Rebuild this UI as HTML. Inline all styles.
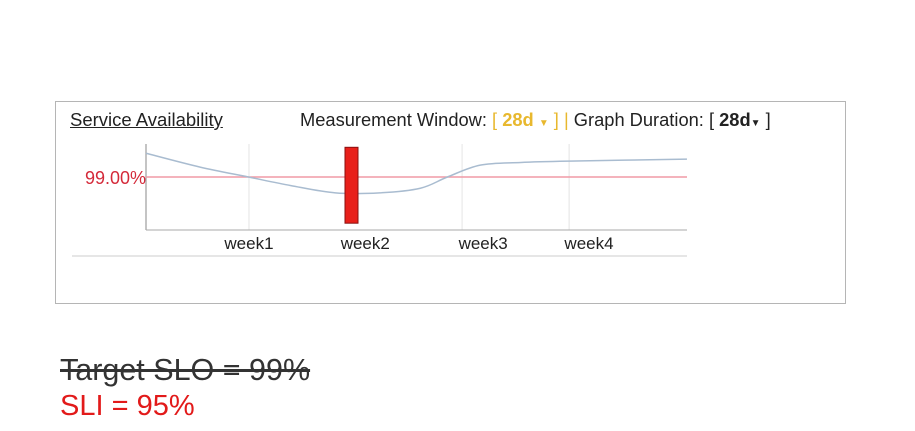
<!DOCTYPE html>
<html><head><meta charset="utf-8"><style>
body{margin:0;width:915px;height:431px;background:#fff;font-family:"Liberation Sans",sans-serif;overflow:hidden;position:relative}
.frame{position:absolute;left:55px;top:101px;width:791px;height:203px;border:1px solid #b5b5b5;box-sizing:border-box}
.t{position:absolute;white-space:nowrap}
</style></head><body>
<div class="frame"></div>
<div class="t" style="left:70px;top:109px;font-size:18.5px;color:#222;text-decoration:underline">Service Availability</div>
<div class="t" style="left:300px;top:109px;font-size:18.3px;color:#222">Measurement Window: <span style="color:#e8b82e">[ <b>28d</b> <span style="font-size:10px">▼</span> ] |</span> Graph Duration: <span>[ <b>28d</b><span style="font-size:10px">▼</span> ]</span></div>
<svg width="915" height="431" style="position:absolute;left:0;top:0">
<g id="g"></g>
</svg>
<div class="t" style="left:60px;top:353px;font-size:30.5px;color:#333;text-decoration:line-through">Target SLO = 99%</div>
<div class="t" style="left:60px;top:390px;font-size:29px;color:#e21a1a">SLI = 95%</div>
<script>
const days=[0,2.8,5.3,7.5,9.8,12.1,14.2,15.6,17.3,19.4,21.9,28];
const avail=[99.36,99.15,99.0,98.87,98.76,98.76,98.83,99.0,99.18,99.22,99.24,99.27];
const target=[99.0];
const gridDays=[5.33,16.36,21.9];
const tickLabels=["week1","week2","week3","week4"];
const tickLabelDays=[5.33,11.35,17.45,22.93];
const barDay=[10.3];
const barRange=[99.45,98.3];
const X=d=>146+d*19.32, Y=v=>177-(v-99)*66;
const NS="http://www.w3.org/2000/svg",g=document.getElementById('g');
function mk(t,a){const e=document.createElementNS(NS,t);for(const k in a)e.setAttribute(k,a[k]);g.appendChild(e);return e;}
gridDays.forEach(d=>{const e=mk('line',{x1:X(d),x2:X(d),y1:144,y2:230,stroke:'#e4e4e4'});

});
let a=mk('line',{x1:146,x2:146,y1:144,y2:230,stroke:'#888'});


a=mk('line',{x1:146,x2:687,y1:230,y2:230,stroke:'#aaa'});


a=mk('line',{x1:72,x2:687,y1:256,y2:256,stroke:'#ccc'});


let tl=mk('line',{x1:146,x2:687,y1:Y(target[0]),y2:Y(target[0]),stroke:'#f09aa5','stroke-width':1.5});


let lab=mk('text',{x:146,y:Y(target[0])+7,'text-anchor':'end','font-size':18,fill:'#d42a3a','font-family':'Liberation Sans'});lab.textContent=target[0].toFixed(2)+'%';


const P=days.map((d,i)=>[X(d),Y(avail[i])]);
let dd='M'+P[0][0]+','+P[0][1];
for(let i=0;i<P.length-1;i++){const p0=P[Math.max(0,i-1)],p1=P[i],p2=P[i+1],p3=P[Math.min(P.length-1,i+2)];
dd+=' C'+(p1[0]+(p2[0]-p0[0])/6)+','+(p1[1]+(p2[1]-p0[1])/6)+' '+(p2[0]-(p3[0]-p1[0])/6)+','+(p2[1]-(p3[1]-p1[1])/6)+' '+p2[0]+','+p2[1];}
let ln=mk('path',{d:dd,fill:'none',stroke:'#a9bcd0','stroke-width':1.5});


let b=mk('rect',{x:X(barDay[0]),y:Y(barRange[0]),width:13,height:Y(barRange[1])-Y(barRange[0]),fill:'#e8201a',stroke:'#8a1010','stroke-width':1});


tickLabels.forEach((t,i)=>{const e=mk('text',{x:X(tickLabelDays[i]),y:249,'text-anchor':'middle','font-size':17,fill:'#222','font-family':'Liberation Sans'});e.textContent=t;

});
</script>
</body></html>
